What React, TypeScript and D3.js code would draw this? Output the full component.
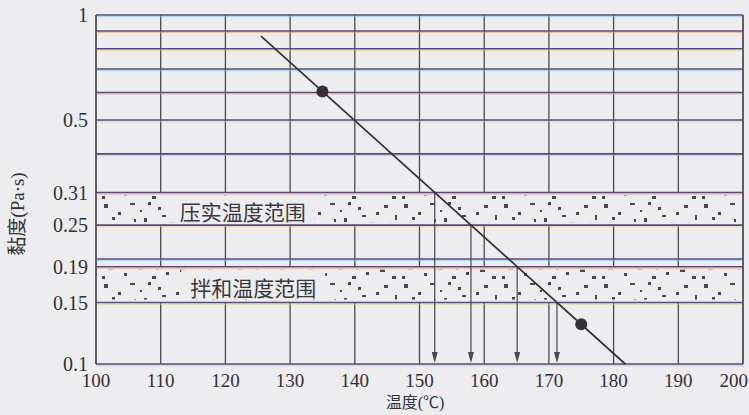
import React from 'react';
import * as d3 from 'd3';

// ---- data ----
const xTicks = [100, 110, 120, 130, 140, 150, 160, 170, 180, 190, 200];
const yTickValues = [1, 0.5, 0.31, 0.25, 0.19, 0.15, 0.1];
const yTickLabels = ['1', '0.5', '0.31', '0.25', '0.19', '0.15', '0.1'];
const gridValues = [1, 0.9, 0.8, 0.7, 0.6, 0.5, 0.4, 0.31, 0.25, 0.2, 0.19, 0.15, 0.1];
const bandLow = [0.25, 0.15];
const bandHigh = [0.31, 0.19];
const bandLabels = ['压实温度范围', '拌和温度范围'];
const lineTemps = [125.5, 181.8];
const lineVisc = [0.87, 0.1];
const pointTemps = [135, 175];
const pointVisc = [0.604, 0.13];
const arrowVisc = [0.31, 0.25, 0.19, 0.15];

// ---- styling ----
const W = 749;
const H = 415;
const M = { left: 96, right: 6, top: 15, bottom: 51 };
const BG = '#edecef';
const INK = '#333136';
const SERIF = 'Liberation Serif, Times New Roman, DejaVu Serif, serif';
const CJK = 'Noto Sans CJK SC, sans-serif';
const fringe = ['#7fd2e2', '#e5a676', '#d9d36a'];
const stipple: [number, number, number, number][] = [
  [4, 4, 4, 4], [18, 12, 3, 3], [30, 3, 5, 2], [44, 18, 3, 5], [58, 7, 3, 3],
  [70, 22, 5, 3], [84, 5, 4, 3], [95, 15, 2, 5], [8, 26, 5, 4], [24, 33, 3, 3],
  [38, 28, 5, 2], [52, 36, 4, 3], [66, 32, 3, 3], [80, 29, 5, 3], [92, 36, 4, 3],
  [12, 17, 3, 3], [62, 15, 4, 2], [34, 19, 2, 4], [76, 12, 3, 3], [48, 2, 3, 3],
  [2, 36, 3, 3], [88, 22, 3, 3], [20, 24, 4, 2], [56, 26, 3, 4], [40, 10, 2, 2],
];

export default function App() {
  const x = d3.scaleLinear().domain([100, 200]).range([M.left, W - M.right]);
  const y = d3.scaleLog().domain([0.1, 1]).range([H - M.bottom, M.top]);

  const slope = (Math.log10(lineVisc[1]) - Math.log10(lineVisc[0])) / (lineTemps[1] - lineTemps[0]);
  const tempAt = (v: number) => lineTemps[0] + (Math.log10(v) - Math.log10(lineVisc[0])) / slope;

  const lineGen = d3.line<number>().x((_, i) => x(lineTemps[i])).y((_, i) => y(lineVisc[i]));

  const x0 = M.left;
  const x1 = W - M.right;
  const yBottom = H - M.bottom;
  const labelCenters = [x(122.7), x(124.3)];

  return (
    <svg width={W} height={H} style={{ position: 'absolute', left: 0, top: 0, background: BG }}>
      <defs>
        <pattern id="stip" width={100} height={40} patternUnits="userSpaceOnUse">
          {stipple.map((s, i) => (
            <rect key={i} x={s[0]} y={s[1]} width={s[2]} height={s[3]} fill="#2f2d34" opacity={0.85} />
          ))}
        </pattern>
      </defs>
      <rect x={0} y={0} width={W} height={H} fill={BG} />

      {/* vertical grid lines */}
      {xTicks.map((t) => (
        <line key={'v' + t} x1={x(t)} x2={x(t)} y1={M.top} y2={yBottom} stroke="#4c4952" strokeWidth={1.3} />
      ))}

      {/* bands */}
      {bandLow.map((lo, i) => {
        const yt = y(bandHigh[i]);
        const yb = y(lo);
        const cx = labelCenters[i];
        const cy = (yt + yb) / 2 + 2;
        return (
          <g key={'b' + i}>
            <rect x={x0 + 1} y={yt} width={x1 - x0 - 2} height={yb - yt} fill={BG} />
            <rect x={x0 + 3} y={yt + 3} width={x1 - x0 - 6} height={yb - yt - 6} fill="url(#stip)" />
            <rect x={cx - 72} y={yt + 3} width={144} height={yb - yt - 6} fill={BG} />
            <text x={cx} y={cy} textAnchor="middle" dominantBaseline="central"
              style={{ fontFamily: CJK }} fontSize={21} fill="#3a383d">
              {bandLabels[i]}
            </text>
          </g>
        );
      })}

      {/* horizontal grid lines */}
      {gridValues.map((v, i) => (
        <g key={'h' + v}>
          <line x1={x0} x2={x1} y1={y(v) + 1.6} y2={y(v) + 1.6} stroke={fringe[i % 3]} strokeWidth={1} opacity={0.6} />
          <line x1={x0} x2={x1} y1={y(v)} y2={y(v)} stroke="#5a4a7e" strokeWidth={1.6} />
        </g>
      ))}
      {/* left/right borders */}
      <line x1={x0} x2={x0} y1={M.top} y2={yBottom} stroke="#4c4952" strokeWidth={1.3} />
      <line x1={x1} x2={x1} y1={M.top} y2={yBottom} stroke="#4c4952" strokeWidth={1.3} />

      {/* arrows */}
      {arrowVisc.map((v) => {
        const ax = x(tempAt(v));
        const ay = y(v);
        return (
          <g key={'a' + v}>
            <line x1={ax} x2={ax} y1={ay} y2={yBottom - 8} stroke="#4a484e" strokeWidth={1.2} />
            <path d={`M${ax - 3},${yBottom - 12} L${ax + 3},${yBottom - 12} L${ax},${yBottom - 1} Z`} fill="#4a484e" />
          </g>
        );
      })}

      {/* viscosity-temperature line */}
      <path d={lineGen(lineTemps) || ''} fill="none" stroke={INK} strokeWidth={1.7} />
      {pointTemps.map((t, i) => (
        <circle key={'p' + t} cx={x(t)} cy={y(pointVisc[i])} r={6} fill={INK} />
      ))}

      {/* y tick labels */}
      {yTickValues.map((v, i) => (
        <text key={'yl' + v} x={M.left - 8} y={y(v)} textAnchor="end" dominantBaseline="central"
          style={{ fontFamily: SERIF }} fontSize={20} fill={INK}>
          {yTickLabels[i]}
        </text>
      ))}
      {/* x tick labels */}
      {xTicks.map((t, i) => (
        <text key={'xl' + t} x={i === xTicks.length - 1 ? W - 1 : x(t)} y={387}
          textAnchor={i === xTicks.length - 1 ? 'end' : 'middle'}
          style={{ fontFamily: SERIF }} fontSize={19} fill={INK}>
          {t}
        </text>
      ))}
      <text x={415} y={408} textAnchor="middle" style={{ fontFamily: SERIF }} fontSize={16} fill={INK}>
        <tspan style={{ fontFamily: CJK }}>温度</tspan>(<tspan style={{ fontFamily: CJK }}>℃</tspan>)
      </text>
      <text transform="translate(24,214) rotate(-90)" textAnchor="middle" style={{ fontFamily: SERIF }} fontSize={19} fill={INK}>
        <tspan style={{ fontFamily: CJK }}>黏度</tspan>(Pa·s)
      </text>
    </svg>
  );
}
